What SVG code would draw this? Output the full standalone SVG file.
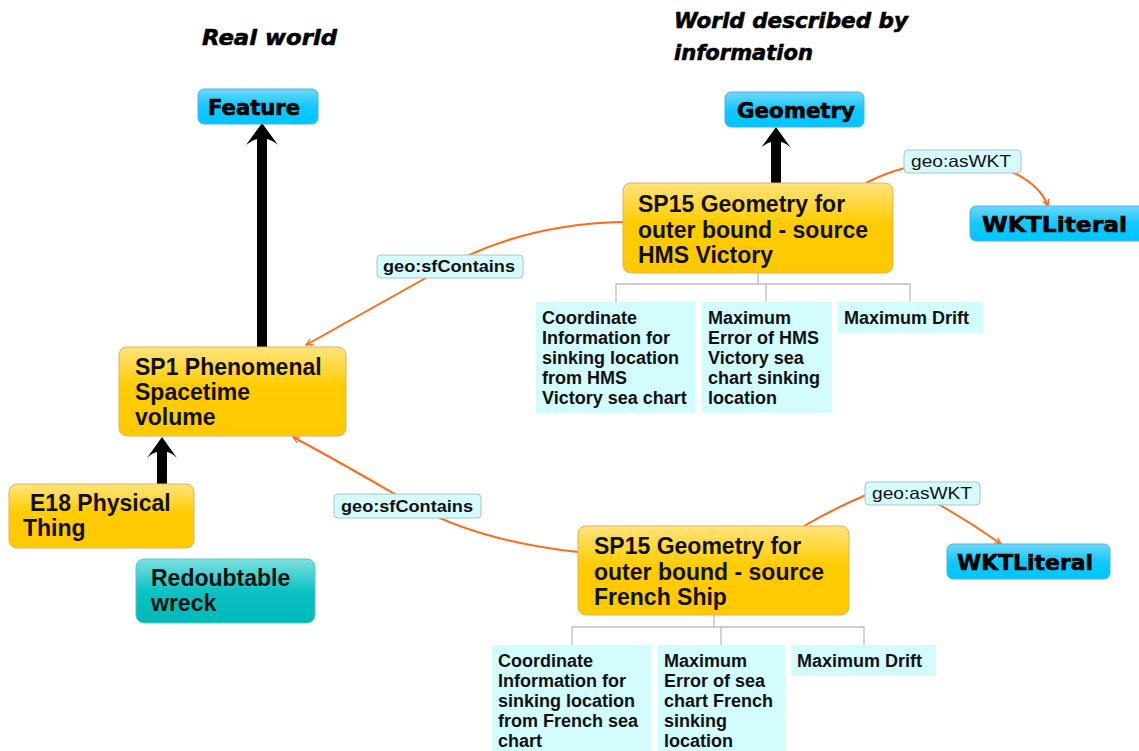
<svg xmlns="http://www.w3.org/2000/svg" width="1139" height="751" viewBox="0 0 1139 751">
<defs>
<linearGradient id="gOr" x1="0" y1="0" x2="0" y2="1">
<stop offset="0" stop-color="#ffe47e"/><stop offset="0.45" stop-color="#ffcc00"/><stop offset="1" stop-color="#ffc900"/>
</linearGradient>
<linearGradient id="gBl" x1="0" y1="0" x2="0" y2="1">
<stop offset="0" stop-color="#6fd8f8"/><stop offset="0.5" stop-color="#12c8fc"/><stop offset="1" stop-color="#00c6ff"/>
</linearGradient>
<linearGradient id="gTe" x1="0" y1="0" x2="0" y2="1">
<stop offset="0" stop-color="#7ee0e0"/><stop offset="0.5" stop-color="#0cc2c2"/><stop offset="1" stop-color="#00b9b9"/>
</linearGradient>
<marker id="oa" viewBox="0 0 10 10" refX="9" refY="5" markerWidth="8" markerHeight="8" orient="auto" markerUnits="userSpaceOnUse">
<path d="M1,1 L9,5 L1,9" fill="none" stroke="#ff6a1a" stroke-width="1.6"/>
</marker>
<style>
.or{fill:url(#gOr);stroke:#d9b461;stroke-width:1}
.bl{fill:url(#gBl);stroke:#52aee6;stroke-width:1}
.te{fill:url(#gTe);stroke:#5cc4c4;stroke-width:1}
.sub{fill:#d2fcff}
.lab{fill:#d5fbff;stroke:#a7c6c9;stroke-width:1}
.t{font-family:"Liberation Sans",Arial,sans-serif;font-weight:bold;fill:#111}
.nt{font-size:23px}
.st{font-size:18px}
.lt{font-size:16.5px}
.ht{font-family:"DejaVu Sans","Liberation Sans",sans-serif;font-weight:bold;fill:#000;stroke:#000;stroke-width:0.6}
.ti{font-family:"DejaVu Sans","Liberation Sans",sans-serif;font-weight:bold;font-style:italic;fill:#000;stroke:#000;stroke-width:0.6;font-size:22px}
.oc{fill:none;stroke:#ff6a1a;stroke-width:2}
.gc{fill:none;stroke:#bdbdbd;stroke-width:1.3}
</style>
</defs>
<rect width="1139" height="751" fill="#ffffff"/>

<g id="titles">
<text class="ti" x="202" y="45" textLength="135" lengthAdjust="spacingAndGlyphs">Real world</text>
<text class="ti" x="674" y="28" textLength="234" lengthAdjust="spacingAndGlyphs">World described by</text>
<text class="ti" x="674" y="60" textLength="139" lengthAdjust="spacingAndGlyphs">information</text>
</g>

<g id="connectors">
<path d="M262,123 L278,145 Q272,140 267,139 L267,347 L257,347 L257,139 Q252,140 246,145 Z" fill="#000"/>
<path d="M776,127 L791,148 Q786,143 781,142 L781,183 L771,183 L771,142 Q766,143 761,148 Z" fill="#000"/>
<path d="M162,437 L177,458 Q172,453 167,452 L167,484 L157,484 L157,452 Q152,453 147,458 Z" fill="#000"/>
<path class="oc" d="M623,222 Q520,224 440,270 L306,345" marker-end="url(#oa)"/>
<path class="oc" d="M578,552 Q470,540 405,500 Q345,465 293,437" marker-end="url(#oa)"/>
<path class="oc" d="M866,183 Q885,173 905,168"/>
<path class="oc" d="M1012,172 Q1040,185 1048,206" marker-end="url(#oa)"/>
<path class="oc" d="M804,526 Q835,508 866,495"/>
<path class="oc" d="M938,504 Q970,522 1001,544" marker-end="url(#oa)"/>
<path class="gc" d="M758,273 V284 M616,302 V284 H910 V302 M766,284 V302"/>
<path class="gc" d="M714,615 V627 M572,645 V627 H864 V645 M721,627 V645"/>
</g>

<g id="feature">
<rect class="bl" x="198" y="89" width="120" height="35" rx="6"/>
<text class="ht" x="208" y="115" font-size="21" textLength="92" lengthAdjust="spacingAndGlyphs">Feature</text>
</g>

<g id="geometry">
<rect class="bl" x="725" y="92" width="139" height="35" rx="6"/>
<text class="ht" x="737" y="118" font-size="21" textLength="118" lengthAdjust="spacingAndGlyphs">Geometry</text>
</g>

<g id="wkt1">
<rect class="bl" x="970" y="206" width="175" height="35" rx="6"/>
<text class="ht" x="982" y="232" font-size="21" textLength="145" lengthAdjust="spacingAndGlyphs">WKTLiteral</text>
</g>

<g id="wkt2">
<rect class="bl" x="947" y="544" width="163" height="35" rx="6"/>
<text class="ht" x="957" y="570" font-size="21" textLength="136" lengthAdjust="spacingAndGlyphs">WKTLiteral</text>
</g>

<g id="sp15a">
<rect class="or" x="623" y="183" width="270" height="90" rx="8"/>
<text class="t nt" x="638" y="212">SP15 Geometry for</text>
<text class="t nt" x="638" y="238">outer bound - source</text>
<text class="t nt" x="638" y="263">HMS Victory</text>
</g>

<g id="sp15b">
<rect class="or" x="578" y="526" width="271" height="89" rx="8"/>
<text class="t nt" x="594" y="554">SP15 Geometry for</text>
<text class="t nt" x="594" y="580">outer bound - source</text>
<text class="t nt" x="594" y="605">French Ship</text>
</g>

<g id="sp1">
<rect class="or" x="119" y="347" width="227" height="89" rx="8"/>
<text class="t nt" x="135" y="375">SP1 Phenomenal</text>
<text class="t nt" x="135" y="400">Spacetime</text>
<text class="t nt" x="135" y="425">volume</text>
</g>

<g id="e18">
<rect class="or" x="9" y="484" width="185" height="64" rx="8"/>
<text class="t nt" x="30" y="511">E18 Physical</text>
<text class="t nt" x="23" y="536">Thing</text>
</g>

<g id="redoubtable">
<rect class="te" x="136" y="559" width="179" height="64" rx="8"/>
<text class="t nt" x="151" y="586">Redoubtable</text>
<text class="t nt" x="151" y="611">wreck</text>
</g>

<g id="lab-sf1">
<rect class="lab" x="377" y="255" width="146" height="23" rx="4"/>
<text class="t lt" x="383" y="272" textLength="132" lengthAdjust="spacingAndGlyphs">geo:sfContains</text>
</g>

<g id="lab-sf2">
<rect class="lab" x="334" y="494" width="147" height="24" rx="4"/>
<text class="t lt" x="341" y="512" textLength="132" lengthAdjust="spacingAndGlyphs">geo:sfContains</text>
</g>

<g id="lab-wkt1">
<rect class="lab" x="904" y="150" width="117" height="23" rx="4"/>
<text class="t lt" x="911" y="167" textLength="100" lengthAdjust="spacingAndGlyphs" style="font-weight:500">geo:asWKT</text>
</g>

<g id="lab-wkt2">
<rect class="lab" x="865" y="482" width="115" height="23" rx="4"/>
<text class="t lt" x="872" y="499" textLength="100" lengthAdjust="spacingAndGlyphs" style="font-weight:500">geo:asWKT</text>
</g>

<g id="coord1">
<rect class="sub" x="536" y="302" width="159" height="111"/>
<text class="t st" x="542" y="324">Coordinate</text>
<text class="t st" x="542" y="344">Information for</text>
<text class="t st" x="542" y="364">sinking location</text>
<text class="t st" x="542" y="384">from HMS</text>
<text class="t st" x="542" y="404">Victory sea chart</text>
</g>

<g id="maxerr1">
<rect class="sub" x="702" y="302" width="130" height="111"/>
<text class="t st" x="708" y="324">Maximum</text>
<text class="t st" x="708" y="344">Error of HMS</text>
<text class="t st" x="708" y="364">Victory sea</text>
<text class="t st" x="708" y="384">chart sinking</text>
<text class="t st" x="708" y="404">location</text>
</g>

<g id="drift1">
<rect class="sub" x="838" y="302" width="145" height="31"/>
<text class="t st" x="844" y="324">Maximum Drift</text>
</g>

<g id="coord2">
<rect class="sub" x="492" y="645" width="159" height="106"/>
<text class="t st" x="498" y="667">Coordinate</text>
<text class="t st" x="498" y="687">Information for</text>
<text class="t st" x="498" y="707">sinking location</text>
<text class="t st" x="498" y="727">from French sea</text>
<text class="t st" x="498" y="747">chart</text>
</g>

<g id="maxerr2">
<rect class="sub" x="658" y="645" width="127" height="106"/>
<text class="t st" x="664" y="667">Maximum</text>
<text class="t st" x="664" y="687">Error of sea</text>
<text class="t st" x="664" y="707">chart French</text>
<text class="t st" x="664" y="727">sinking</text>
<text class="t st" x="664" y="747">location</text>
</g>

<g id="drift2">
<rect class="sub" x="791" y="645" width="145" height="31"/>
<text class="t st" x="797" y="667">Maximum Drift</text>
</g>
</svg>
